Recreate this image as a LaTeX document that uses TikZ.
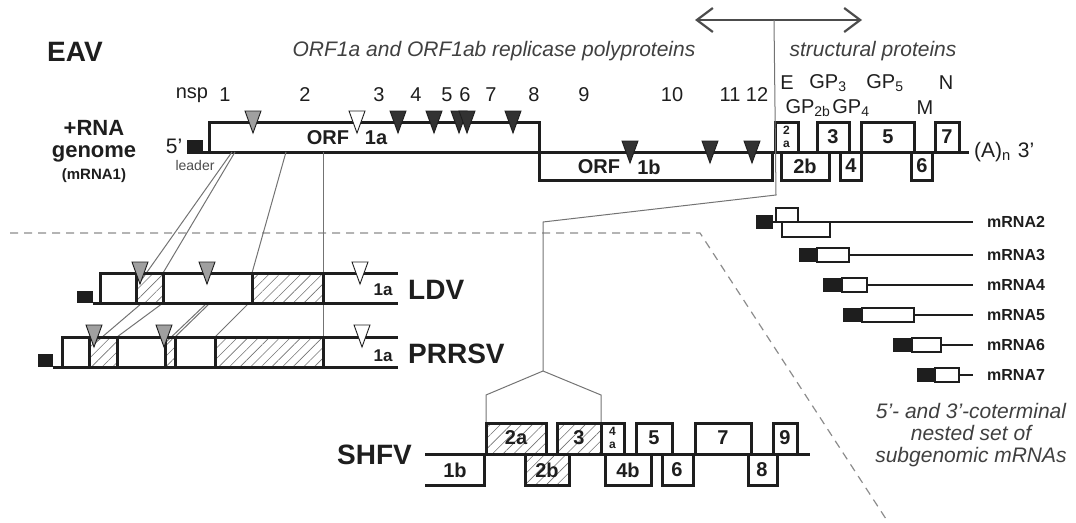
\documentclass[tikz,border=0pt]{standalone}
\usepackage{fontspec}
\setmainfont{Liberation Sans}
\usetikzlibrary{arrows.meta,patterns.meta}
\definecolor{ink}{RGB}{30,30,30}
\definecolor{linkgray}{RGB}{115,115,115}
\definecolor{cutgray}{RGB}{160,160,160}
\definecolor{cutdark}{RGB}{50,50,50}
\newcommand{\cleave}[3]{\filldraw[fill=#3,draw=ink,line width=0.9pt,line join=miter]
  (#1-8,#2) -- (#1+8,#2) -- (#1,#2+22) -- cycle;}

\begin{document}
\begin{tikzpicture}[x=1pt,y=-1pt,line join=miter,
    genome/.style={line width=3pt,draw=ink},
    orf/.style={line width=3pt,draw=ink,fill=white},
    hatched/.style={line width=3pt,draw=ink,
      pattern={Lines[angle=45,distance=7.5pt,line width=0.6pt]},pattern color=black!55},
    link/.style={draw=linkgray,line width=1pt},
    border/.style={draw=black!45,line width=1.2pt,dash pattern=on 8pt off 6pt},
    nsp/.style={font=\fontsize{20}{22}\selectfont,text=ink,inner sep=0pt},
    orflbl/.style={font=\bfseries\fontsize{20}{22}\selectfont,text=ink,inner sep=0pt},
    smalllbl/.style={font=\bfseries\fontsize{17}{19}\selectfont,text=ink,inner sep=0pt},
    stack/.style={font=\bfseries\fontsize{12}{13}\selectfont,text=ink,inner sep=0pt,align=center},
    virus/.style={font=\bfseries\fontsize{28}{30}\selectfont,text=ink,inner sep=0pt},
    mrna/.style={font=\bfseries\fontsize{16}{18}\selectfont,text=ink,anchor=west,inner sep=0pt},
    note/.style={font=\itshape\fontsize{21}{22}\selectfont,text=black!75,inner sep=0pt,align=center}]
\useasboundingbox (0,0) rectangle (1076,522);

% headings
\node[virus,anchor=west] (eav) at (47,52) {EAV};
\node[note] (repl) at (494,51) {ORF1a and ORF1ab replicase polyproteins};
\node[note] (struct) at (873,51) {structural proteins};
\coordinate (arrL) at (695,20);
\coordinate (arrR) at (862,20);
\coordinate (split) at (774,20);
\draw[line width=2.2pt,draw=black!70,
  {Straight Barb[length=16pt,width=24pt]}-{Straight Barb[length=16pt,width=24pt]}] (arrL) -- (arrR);

% nsp numbering
\node[nsp] (nsp) at (192,95) {nsp};
\foreach \x/\t in {225/1,305/2,379/3,416/4,447/5,465/6,491/7,534/8,584/9,672/10,730/11,757/12}
  \node[nsp] (nsp\t) at (\x,95) {\t};
\node[nsp] (pE) at (787,83) {E};
\node[nsp] (pGPthree) at (828,83) {GP\textsubscript{3}};
\node[nsp] (pGPfive) at (885,83) {GP\textsubscript{5}};
\node[nsp] (pN) at (946,83) {N};
\node[nsp] (pGPtwob) at (808,108) {GP\textsubscript{2b}};
\node[nsp] (pGPfour) at (851,108) {GP\textsubscript{4}};
\node[nsp] (pM) at (925,108) {M};

% EAV genome
\node[font=\bfseries\fontsize{22}{22}\selectfont,text=ink,inner sep=0pt] (rna) at (94,128) {+RNA};
\node[font=\bfseries\fontsize{22}{22}\selectfont,text=ink,inner sep=0pt] (gen) at (94,154) {genome};
\node[font=\bfseries\fontsize{15}{15}\selectfont,text=ink,inner sep=0pt] (mrnaone) at (94,176) {(mRNA1)};
\node[font=\fontsize{21}{21}\selectfont,text=ink,inner sep=0pt] (five) at (174,146) {5'};
\node[font=\fontsize{14}{14}\selectfont,text=black!70,inner sep=0pt] (leader) at (195,165) {leader};
\fill[ink] (187,140) rectangle (203,152);
\draw[genome] (187,152) -- (969,152);
\draw[genome] (209,152) |- (539,122) -- (539,180) -| (772,152);
\foreach \a/\b in {775/798,817/849,861/914,935/959}
  \draw[orf] (\a,152) rectangle (\b,122);
\foreach \a/\b in {781/829,840/861,911/932}
  \draw[orf] (\a,152) rectangle (\b,180);
\node[orflbl] (orfa) at (328,138) {ORF};
\node[orflbl] (orfanum) at (376,138) {1a};
\node[orflbl] (orfb) at (599,167) {ORF};
\node[orflbl] (orfbnum) at (649,167) {1b};
\node[stack] (gtwoa) at (786.5,137) {2\\a};
\foreach \x/\y/\t in {833/137/3,888/137/5,947/137/7,805/166/2b,851/166/4,922/166/6}
  \node[orflbl] (g\t) at (\x,\y) {\t};
\node[font=\fontsize{21}{21}\selectfont,text=ink,inner sep=0pt,anchor=west] (polyA) at (974,152) {(A)\textsubscript{n}\,\,3'};
\cleave{253}{111}{cutgray}
\cleave{357}{111}{white}
\foreach \x in {398,434,459,467,513} {\cleave{\x}{111}{cutdark}}
\foreach \x in {630,710,752} {\cleave{\x}{141}{cutdark}}

% divider
\draw[border] (10,233) -- (700,233) -- (888,522);

% homology links
\draw[link] (232,152) -- (140,282);
\draw[link] (235,152) -- (163,273);
\draw[link] (286,152) -- (252,273);
\draw[link] (323,152) -- (323,337);
\draw[link] (142,303) -- (94,344);
\draw[link] (163,303) -- (117,337);
\draw[link] (207,303) -- (164,344);
\draw[link] (210,303) -- (175,337);
\draw[link] (249,303) -- (215,337);
\coordinate (bend) at (776,195);
\coordinate (drop) at (543,222);
\coordinate (fork) at (543,371);
\coordinate (forkL) at (486,395);
\coordinate (forkR) at (601,395);
\coordinate (twoa) at (486,423);
\coordinate (three) at (601,423);
\draw[link] (split) -- (bend) -- (drop) -- (fork);
\draw[link] (twoa) -- (forkL) -- (fork) -- (forkR) -- (three);

% LDV
\fill[ink] (77,291) rectangle (93,303);
\draw[hatched] (136,273) rectangle (163,303);
\draw[hatched] (252,273) rectangle (323,303);
\draw[genome] (93,303) -- (398,303) (100,303) |- (398,273);
\cleave{140}{262}{cutgray}
\cleave{207}{262}{cutgray}
\cleave{360}{262}{white}
\node[smalllbl] (ldvorf) at (383,290) {1a};
\node[virus,anchor=west] (ldv) at (408,290) {LDV};

% PRRSV
\fill[ink] (38,354) rectangle (53,367);
\draw[hatched] (89,337) rectangle (117,367);
\draw[hatched] (165,337) rectangle (175,367);
\draw[hatched] (215,337) rectangle (323,367);
\draw[genome] (53,367) -- (398,367) (62,367) |- (398,337);
\cleave{94}{325}{cutgray}
\cleave{164}{325}{cutgray}
\cleave{362}{325}{white}
\node[smalllbl] (prrsvorf) at (383,356) {1a};
\node[virus,anchor=west] (prrsv) at (408,354) {PRRSV};

% SHFV
\node[virus,anchor=east] (shfv) at (412,455) {SHFV};
\draw[genome] (425,454) -- (810,454);
\draw[genome] (425,485) -| (484,454);
\draw[hatched] (486,423) rectangle (546,454);
\draw[hatched] (557,423) rectangle (601,454);
\draw[hatched] (525,454) rectangle (569,485);
\foreach \a/\b in {601/624,636/672,695/751,773/797}
  \draw[orf] (\a,454) rectangle (\b,423);
\foreach \a/\b in {605/651,662/693,748/777}
  \draw[orf] (\a,454) rectangle (\b,485);
\foreach \x/\y/\t in {455/470/1b,547/470/2b,628/470/4b,677/470/6,762/470/8,516/438/2a,579/438/3,654/438/5,723/438/7,785/438/9}
  \node[orflbl] (s\t) at (\x,\y) {\t};
\node[stack] (sfoura) at (612.5,438) {4\\a};

% subgenomic mRNAs
\fill[ink] (756,215) rectangle (773,229);
\draw[genome,line width=2.4pt] (773,222) -- (973,222);
\draw[orf,line width=2.4pt] (776,208) rectangle (798,222);
\draw[orf,line width=2.4pt] (782,222) rectangle (830,237);
\node[mrna] (mtwo) at (987,222) {mRNA2};
\foreach \n/\y/\xa/\xb/\xc in {3/255/799/817/849,4/285/823/842/867,5/315/843/862/914,6/345/893/912/941,7/375/917/935/959}{
  \fill[ink] (\xa,\y-7) rectangle (\xb,\y+7);
  \draw[genome,line width=2.4pt] (\xc,\y) -- (973,\y);
  \draw[orf,line width=2.4pt] (\xb,\y-7) rectangle (\xc,\y+7);
  \node[mrna] (m\n) at (987,\y) {mRNA\n};
}
\node[note] (nested) at (971,435) {5'- and 3'-coterminal\\nested set of\\subgenomic mRNAs};
\end{tikzpicture}
\end{document}
